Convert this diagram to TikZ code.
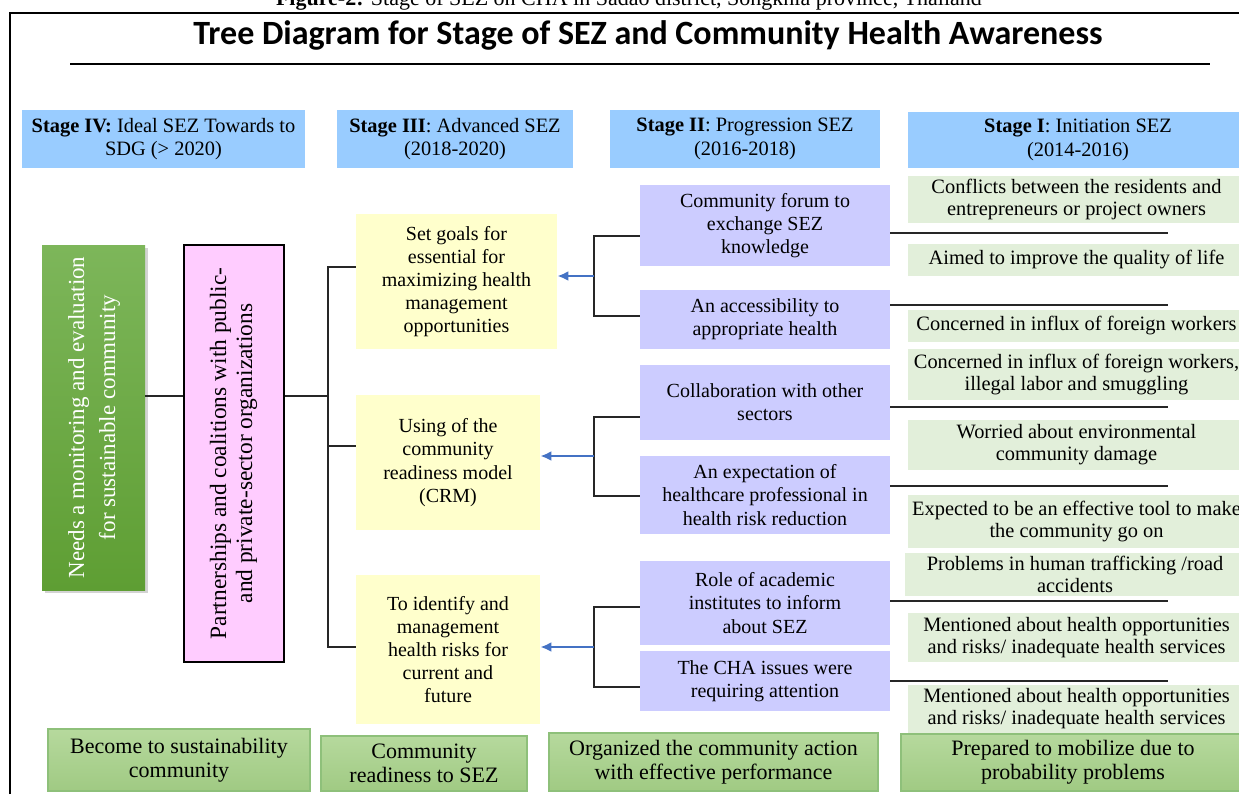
\documentclass[tikz,border=0pt]{standalone}
\usepackage{fontspec}
\setmainfont{Liberation Serif}
\newfontfamily\titlefont{Carlito}
\usepackage{graphicx}
\usetikzlibrary{arrows.meta}
\usetikzlibrary{shadows}

\definecolor{stageblue}{HTML}{99CCFF}
\definecolor{paleyellow}{HTML}{FFFFCC}
\definecolor{lilac}{HTML}{CCCCFF}
\definecolor{pinkish}{HTML}{FFCCFF}
\definecolor{palegreen}{HTML}{E2EFDA}
\definecolor{leaftop}{HTML}{7DB65A}
\definecolor{leafbot}{HTML}{5E9E33}
\definecolor{mosstop}{HTML}{B6D99D}
\definecolor{mossbot}{HTML}{A0CA83}
\definecolor{mossline}{HTML}{8EC07A}
\definecolor{arrowblue}{HTML}{4472C4}

\begin{document}
\begin{tikzpicture}[x=0.5pt,y=-0.5pt]
        \tikzset{sz/.style 2 args = {minimum width=#1*0.5pt, minimum height=#2*0.5pt}}
        \tikzset{box/.style = {inner sep=0pt, align=center, font=\fontsize{10}{11.6}\selectfont}}
        \tikzset{stage/.style = {box, fill=stageblue, font=\fontsize{10.2}{11.8}\selectfont}}
        \tikzset{goal/.style = {box, fill=paleyellow}}
        \tikzset{action/.style = {box, fill=lilac}}
        \tikzset{issue/.style = {box, fill=palegreen, font=\fontsize{10.2}{11}\selectfont}}
        \tikzset{outcome/.style = {box, draw=mossline, line width=0.6pt, top color=mosstop, bottom color=mossbot, font=\fontsize{11}{12}\selectfont}}
        \tikzset{edge/.style = {-, line width=1pt, draw=black!85}}
        \tikzset{push/.style = {-{Latex[length=5.5pt,width=5pt]}, line width=1.1pt, draw=arrowblue}}

        \useasboundingbox (0,0) rectangle (1239,794);

        \node[anchor=base, font=\fontsize{11}{12}\selectfont] (cap) at (629,5) {\textbf{Figure-2:} Stage of SEZ on CHA in Sadao district, Songkhla province, Thailand};
        \draw[line width=1pt] (10,794) -- (10,13) -- (1245,13);
        \node[anchor=base, font=\titlefont\bfseries\fontsize{17}{20}\selectfont] (title) at (648,44) {Tree Diagram for Stage of SEZ and Community Health Awareness};
        \draw[line width=0.6pt] (70,64) -- (1210,64);

        \node[stage, sz={283}{58}] (s4) at (163.5,139) {\textbf{Stage IV:} Ideal SEZ Towards to\\SDG (> 2020)};
        \node[stage, sz={236}{58}] (s3) at (455,139) {\textbf{Stage III}: Advanced SEZ\\(2018-2020)};
        \node[stage, sz={270}{58}] (s2) at (745,139) {\textbf{Stage II}: Progression SEZ\\(2016-2018)};
        \node[stage, sz={340}{56}] (s1) at (1078,140) {\textbf{Stage I}: Initiation SEZ\\(2014-2016)};

        \node[box, sz={103}{345}, top color=leaftop, bottom color=leafbot, text=white,
              drop shadow={opacity=0.35, shadow xshift=1.5pt, shadow yshift=-1.5pt},
              font=\fontsize{11.5}{15.5}\selectfont] (needs) at (93.5,417.5)
              {\rotatebox{90}{\begin{tabular}{@{}c@{}}Needs a monitoring and evaluation\\for sustainable community\end{tabular}}};
        \node[box, sz={100}{417}, draw, line width=0.6pt, fill=pinkish,
              font=\fontsize{11.7}{13}\selectfont] (partner) at (234,453.5)
              {\rotatebox{90}{\begin{tabular}{@{}c@{}}Partnerships and coalitions with public-\\and private-sector organizations\end{tabular}}};

        \node[goal, sz={201}{135}] (g1) at (456.5,281.5) {Set goals for\\essential for\\maximizing health\\management\\opportunities};
        \node[goal, sz={184}{135}] (g2) at (448,462.5) {Using of the\\community\\readiness model\\(CRM)};
        \node[goal, sz={184}{149}] (g3) at (448,649.5) {To identify and\\management\\health risks for\\current and\\future};

        \node[action, sz={250}{81}] (a1) at (765,225.5) {Community forum to\\exchange SEZ\\knowledge};
        \node[action, sz={250}{59}] (a2) at (765,319.5) {An accessibility to\\appropriate health};
        \node[action, sz={250}{75}] (a3) at (765,402.5) {Collaboration with other\\sectors};
        \node[action, sz={250}{78}] (a4) at (765,495) {An expectation of\\healthcare professional in\\health risk reduction};
        \node[action, sz={250}{84}] (a5) at (765,603) {Role of academic\\institutes to inform\\about SEZ};
        \node[action, sz={250}{60}] (a6) at (765,681) {The CHA issues were\\requiring attention};

        \node[issue, sz={337}{47}] (i1) at (1076.5,199) {Conflicts between the residents and\\entrepreneurs or project owners};
        \node[issue, sz={337}{32}] (i2) at (1076.5,260) {Aimed to improve the quality of life};
        \node[issue, sz={337}{32}] (i3) at (1076.5,326) {Concerned in influx of foreign workers};
        \node[issue, sz={337}{51}] (i4) at (1076.5,374.5) {Concerned in influx of foreign workers,\\illegal labor and smuggling};
        \node[issue, sz={337}{50}] (i5) at (1076.5,445) {Worried about environmental\\community damage};
        \node[issue, sz={337}{53}] (i6) at (1076.5,521.5) {Expected to be an effective tool to make\\the community go on};
        \node[issue, sz={340}{43}] (i7) at (1075,574.5) {Problems in human trafficking /road\\accidents};
        \node[issue, sz={337}{49}] (i8) at (1076.5,637.5) {Mentioned about health opportunities\\and risks/ inadequate health services};
        \node[issue, sz={337}{48}] (i9) at (1076.5,709) {Mentioned about health opportunities\\and risks/ inadequate health services};

        \node[outcome, sz={262}{62}] (o4) at (179,760) {Become to sustainability\\community};
        \node[outcome, sz={206}{55}] (o3) at (424,763.5) {Community\\readiness to SEZ};
        \node[outcome, sz={329}{58}] (o2) at (713.5,762) {Organized the community action\\with effective performance};
        \node[outcome, sz={344}{57}] (o1) at (1073,762.5) {Prepared to mobilize due to\\probability problems};

        \coordinate (j0) at (328,396);
        \coordinate (ja) at (328,267);
        \coordinate (jb) at (328,446);
        \coordinate (jc) at (328,647);

        \draw[edge] (needs.east |- j0) to (partner.west |- j0);
        \draw[edge] (partner.east |- j0) to (j0);
        \draw[edge] (g1.west |- ja) -- (ja) -- (jc) -- (g3.west |- jc);
        \draw[edge] (jb) to (g2.west |- jb);

        \coordinate (ka) at (594,236);
        \coordinate (kb) at (594,316);
        \coordinate (kc) at (594,417);
        \coordinate (kd) at (594,496);
        \coordinate (ke) at (594,607);
        \coordinate (kf) at (594,687);
        \coordinate (ma) at (594,276);
        \coordinate (mb) at (594,456);
        \coordinate (mc) at (594,647);

        \draw[edge] (a1.west |- ka) -- (ka) -- (kb) -- (a2.west |- kb);
        \draw[edge] (a3.west |- kc) -- (kc) -- (kd) -- (a4.west |- kd);
        \draw[edge] (a5.west |- ke) -- (ke) -- (kf) -- (a6.west |- kf);

        \draw[push] (ma) to (g1.east |- ma);
        \draw[push] (mb) to (g2.east |- mb);
        \draw[push] (mc) to (g3.east |- mc);

        \coordinate (r1) at (1168,233);
        \coordinate (r2) at (1168,305);
        \coordinate (r3) at (1168,407);
        \coordinate (r4) at (1168,486);
        \coordinate (r5) at (1168,601);
        \coordinate (r6) at (1168,681);

        \draw[edge] (a1.east |- r1) to (r1);
        \draw[edge] (a2.east |- r2) to (r2);
        \draw[edge] (a3.east |- r3) to (r3);
        \draw[edge] (a4.east |- r4) to (r4);
        \draw[edge] (a5.east |- r5) to (r5);
        \draw[edge] (a6.east |- r6) to (r6);
    \end{tikzpicture}
\end{document}
